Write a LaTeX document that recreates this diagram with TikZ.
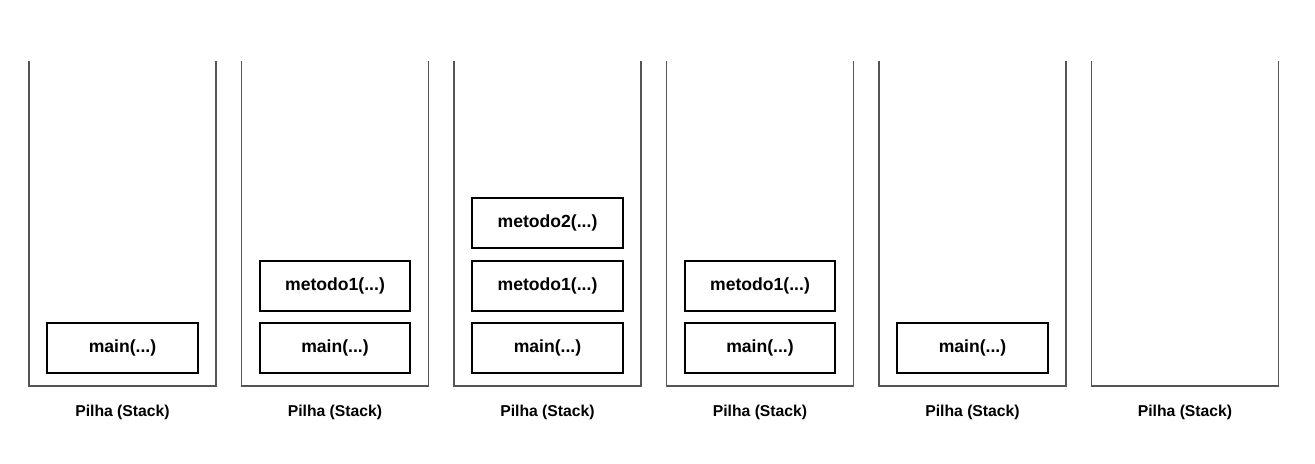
\documentclass[tikz,border=0pt]{standalone}
\usepackage{fontspec}
\setmainfont{Liberation Sans}
\usetikzlibrary{positioning}
\definecolor{stackgray}{RGB}{85,85,85}

\begin{document}
\begin{tikzpicture}[x=0.75pt,y=-0.75pt,
    frame/.style={draw, line width=1.5pt, inner sep=0pt, minimum width=113pt, minimum height=37.5pt, font=\bfseries\fontsize{13.2}{15}\selectfont},
    pilha/.style={draw=stackgray, line width=0.8pt},
    caption/.style={font=\bfseries\fontsize{11.8}{14}\selectfont},
    node distance=7.8pt]
            \useasboundingbox (0,0) rectangle (1315,464);

            % Stacks (open at the top)
            \draw[pilha] (29,61) -- (29,386) -- (216,386) -- (216,61);
            \draw[pilha] (241.5,61) -- (241.5,386) -- (428.5,386) -- (428.5,61);
            \draw[pilha] (454,61) -- (454,386) -- (641,386) -- (641,61);
            \draw[pilha] (666.5,61) -- (666.5,386) -- (853.5,386) -- (853.5,61);
            \draw[pilha] (879,61) -- (879,386) -- (1066,386) -- (1066,61);
            \draw[pilha] (1091.5,61) -- (1091.5,386) -- (1278.5,386) -- (1278.5,61);

            % Captions
            \node[caption] (cap1) at (122.5,412) {Pilha (Stack)};
            \node[caption] (cap2) at (335,412) {Pilha (Stack)};
            \node[caption] (cap3) at (547.5,412) {Pilha (Stack)};
            \node[caption] (cap4) at (760,412) {Pilha (Stack)};
            \node[caption] (cap5) at (972.5,412) {Pilha (Stack)};
            \node[caption] (cap6) at (1185,412) {Pilha (Stack)};

            % Frames
            \node[frame] (main1) at (122.5,348) {main(...)};

            \node[frame] (main2) at (335,348) {main(...)};
            \node[frame, above=of main2] (met2a) {metodo1(...)};

            \node[frame] (main3) at (547.5,348) {main(...)};
            \node[frame, above=of main3] (met3a) {metodo1(...)};
            \node[frame, above=of met3a] (met3b) {metodo2(...)};

            \node[frame] (main4) at (760,348) {main(...)};
            \node[frame, above=of main4] (met4a) {metodo1(...)};

            \node[frame] (main5) at (972.5,348) {main(...)};
\end{tikzpicture}
\end{document}
